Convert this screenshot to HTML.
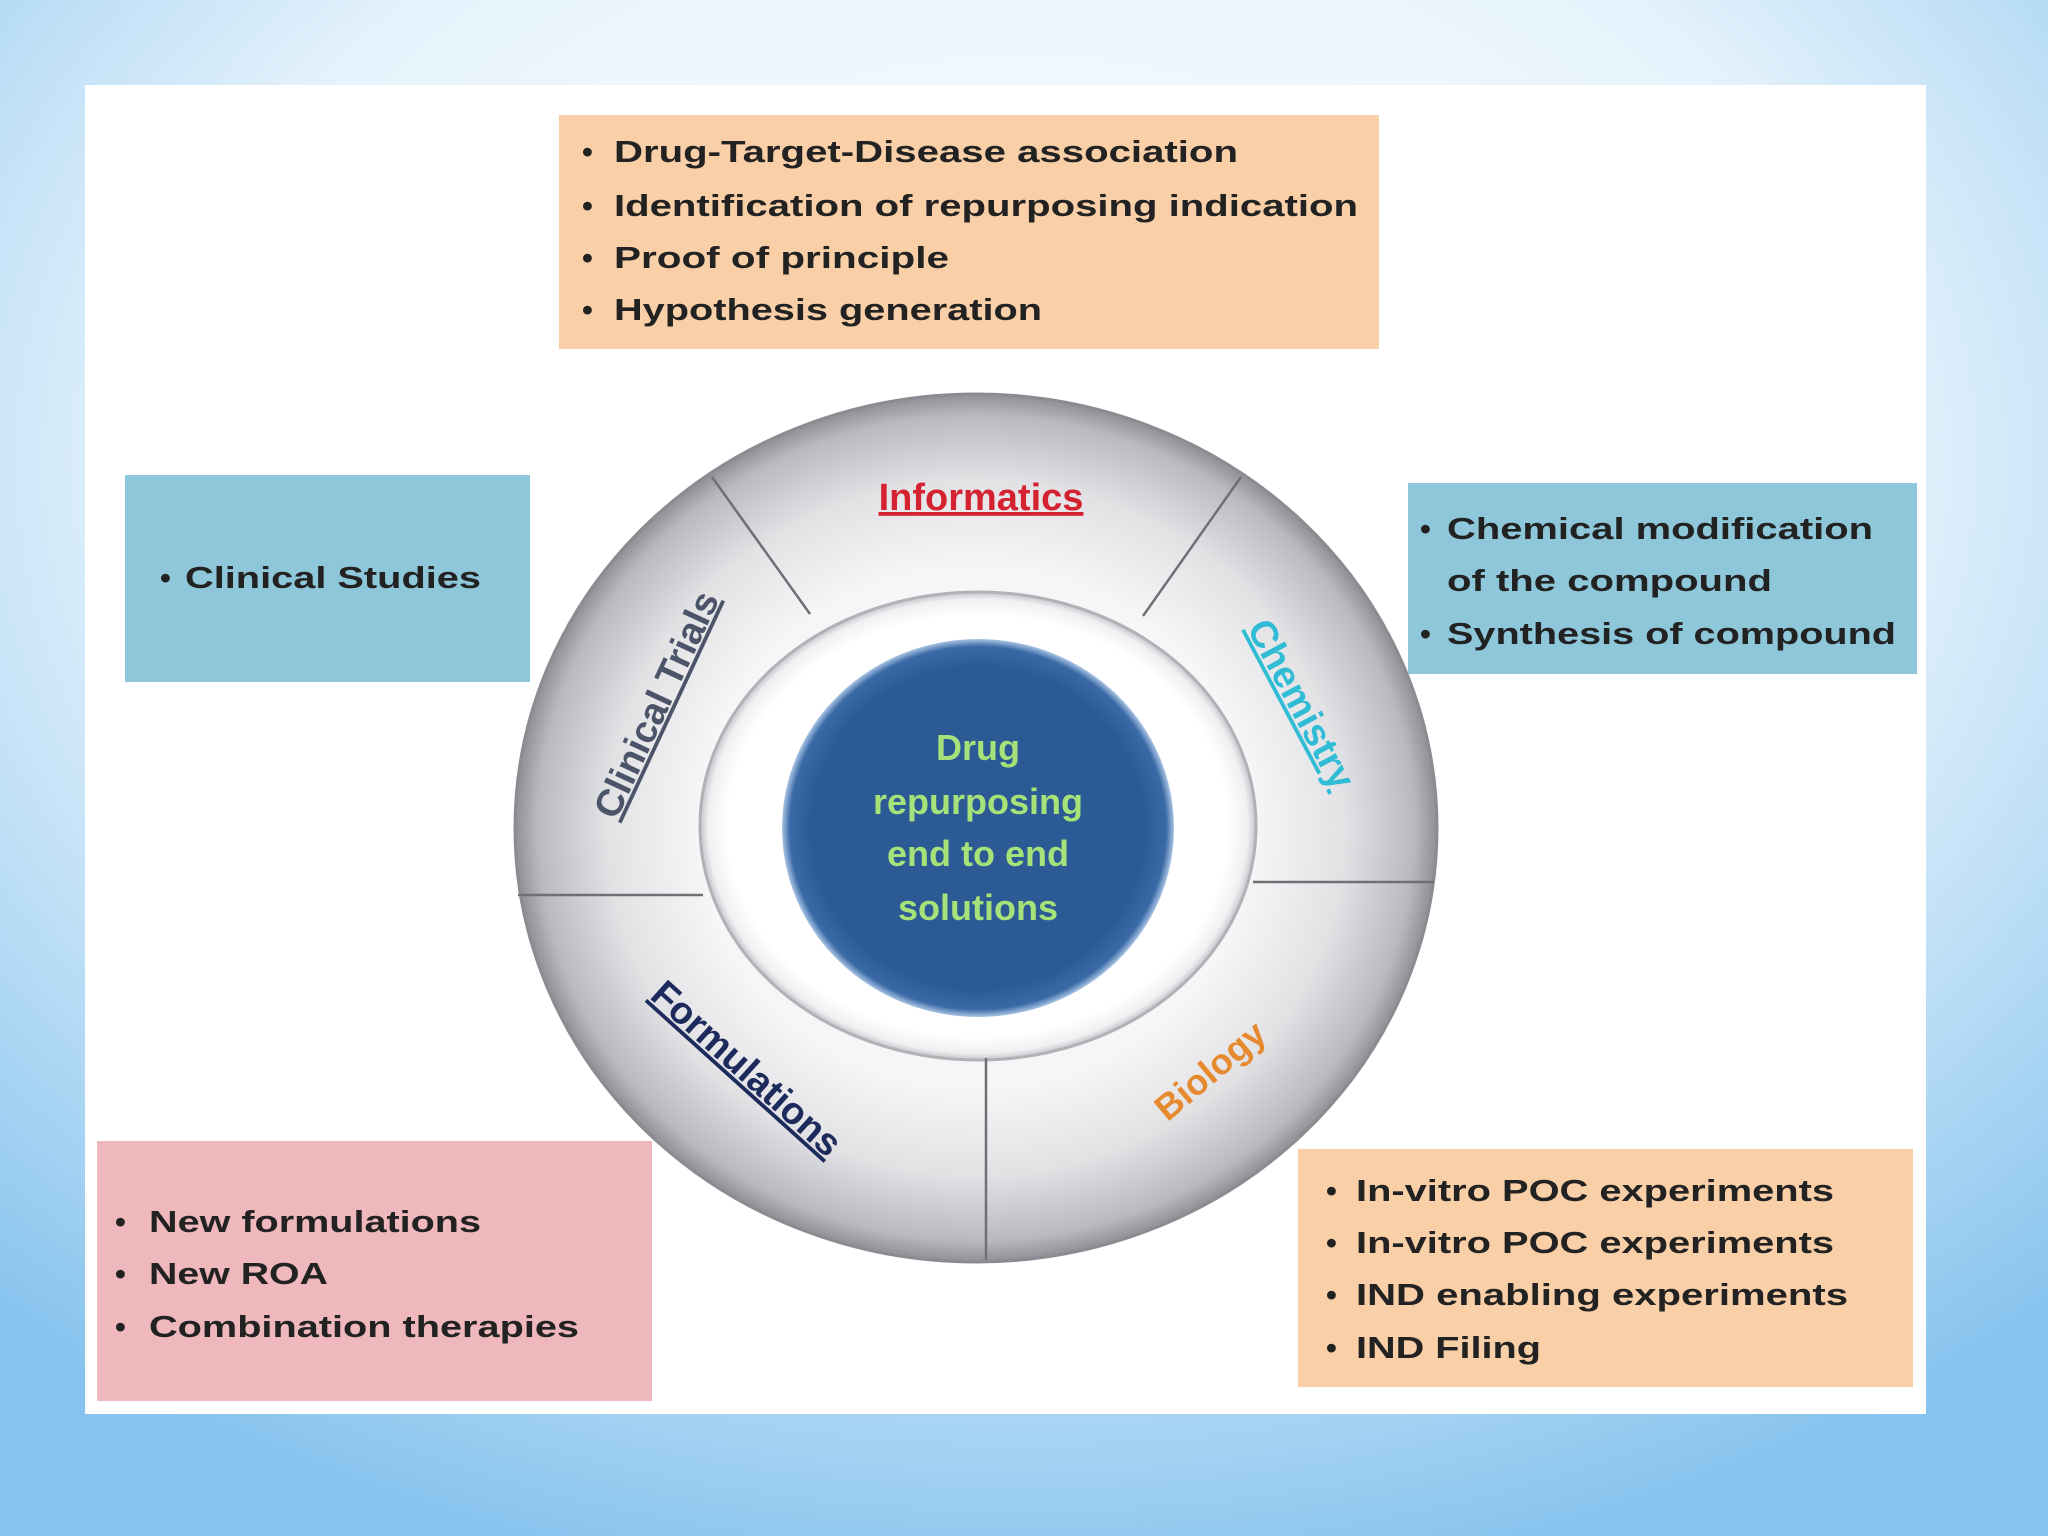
<!DOCTYPE html>
<html><head><meta charset="utf-8"><style>
html,body{margin:0;padding:0;width:2048px;height:1536px;overflow:hidden}
svg{display:block}
text{font-family:"Liberation Sans",sans-serif;font-weight:bold}
</style></head><body>
<svg width="2048" height="1536" viewBox="0 0 2048 1536" xmlns="http://www.w3.org/2000/svg">
<defs>
<radialGradient id="bg" cx="50%" cy="30%" r="75%">
<stop offset="0" stop-color="#ffffff"/><stop offset="0.55" stop-color="#e6f3fc"/><stop offset="1" stop-color="#86c3ee"/>
</radialGradient>
<radialGradient id="ring" cx="50%" cy="50%" r="50%">
<stop offset="0.6" stop-color="#f6f6f7"/><stop offset="0.8" stop-color="#e2e2e5"/><stop offset="0.95" stop-color="#b8babf"/><stop offset="1" stop-color="#8e9096"/>
</radialGradient>
<radialGradient id="inner" cx="50%" cy="50%" r="50%">
<stop offset="0.9" stop-color="#ffffff"/><stop offset="0.97" stop-color="#f0f0f2"/><stop offset="1" stop-color="#c4c5ca"/>
</radialGradient>
<radialGradient id="blue" cx="50%" cy="50%" r="50%">
<stop offset="0.85" stop-color="#2c5a94"/><stop offset="0.96" stop-color="#3a6aa6"/><stop offset="1" stop-color="#a9c4e4"/>
</radialGradient>
</defs>
<rect width="2048" height="1536" fill="url(#bg)"/>
<rect x="85" y="85" width="1841" height="1329" fill="#ffffff"/>

<rect x="559" y="115" width="820" height="234" fill="#f9cfa7"/>
<rect x="125" y="475" width="405" height="207" fill="#8fc7da"/>
<rect x="1408" y="483" width="509" height="191" fill="#8fc7da"/>
<rect x="97" y="1141" width="555" height="260" fill="#efb8bd"/>
<rect x="1298" y="1149" width="615" height="238" fill="#f9cfa7"/>

<g fill="#222" font-size="31">
<text x="582" y="162">•</text><text x="614" y="162" textLength="624" lengthAdjust="spacingAndGlyphs">Drug-Target-Disease association</text>
<text x="582" y="216">•</text><text x="614" y="216" textLength="744" lengthAdjust="spacingAndGlyphs">Identification of repurposing indication</text>
<text x="582" y="268">•</text><text x="614" y="268" textLength="335" lengthAdjust="spacingAndGlyphs">Proof of principle</text>
<text x="582" y="320">•</text><text x="614" y="320" textLength="428" lengthAdjust="spacingAndGlyphs">Hypothesis generation</text>

<text x="160" y="588">•</text><text x="185" y="588" textLength="296" lengthAdjust="spacingAndGlyphs">Clinical Studies</text>

<text x="1420" y="539">•</text><text x="1447" y="539" textLength="426" lengthAdjust="spacingAndGlyphs">Chemical modification</text>
<text x="1447" y="591" textLength="325" lengthAdjust="spacingAndGlyphs">of the compound</text>
<text x="1420" y="644">•</text><text x="1447" y="644" textLength="449" lengthAdjust="spacingAndGlyphs">Synthesis of compound</text>

<text x="115" y="1232">•</text><text x="149" y="1232" textLength="332" lengthAdjust="spacingAndGlyphs">New formulations</text>
<text x="115" y="1284">•</text><text x="149" y="1284" textLength="179" lengthAdjust="spacingAndGlyphs">New ROA</text>
<text x="115" y="1337">•</text><text x="149" y="1337" textLength="430" lengthAdjust="spacingAndGlyphs">Combination therapies</text>

<text x="1326" y="1201">•</text><text x="1356" y="1201" textLength="478" lengthAdjust="spacingAndGlyphs">In-vitro POC experiments</text>
<text x="1326" y="1253">•</text><text x="1356" y="1253" textLength="478" lengthAdjust="spacingAndGlyphs">In-vitro POC experiments</text>
<text x="1326" y="1305">•</text><text x="1356" y="1305" textLength="492" lengthAdjust="spacingAndGlyphs">IND enabling experiments</text>
<text x="1326" y="1358">•</text><text x="1356" y="1358" textLength="185" lengthAdjust="spacingAndGlyphs">IND Filing</text>
</g>

<ellipse cx="976" cy="828" rx="461" ry="434" fill="url(#ring)" stroke="#8a8c92" stroke-width="3"/>
<ellipse cx="978" cy="826" rx="278" ry="234" fill="url(#inner)" stroke="#b0b2b8" stroke-width="3"/>
<g stroke="#6e7076" stroke-width="2.5">
<line x1="712" y1="477" x2="810" y2="614"/>
<line x1="1241" y1="477" x2="1143" y2="616"/>
<line x1="518" y1="895" x2="703" y2="895"/>
<line x1="1253" y1="882" x2="1434" y2="882"/>
<line x1="986" y1="1058" x2="986" y2="1260"/>
</g>
<ellipse cx="978" cy="828" rx="196" ry="189" fill="url(#blue)"/>

<g fill="#a6e27a" font-size="36" text-anchor="middle">
<text x="978" y="760">Drug</text>
<text x="978" y="814">repurposing</text>
<text x="978" y="866">end to end</text>
<text x="978" y="920">solutions</text>
</g>

<text x="981" y="510" fill="#d42230" font-size="38" text-anchor="middle" text-decoration="underline">Informatics</text>
<text transform="translate(668,710) rotate(-65)" fill="#4b5468" font-size="38" text-anchor="middle" text-decoration="underline">Clinical Trials</text>
<text transform="translate(1290,710) rotate(62)" fill="#2fbcd4" font-size="38" text-anchor="middle" text-decoration="underline">Chemistry</text>
<text transform="translate(738,1078) rotate(42)" fill="#1c2a5c" font-size="38" text-anchor="middle" text-decoration="underline">Formulations</text>
<text transform="translate(1218,1080) rotate(-40)" fill="#e68a30" font-size="36" text-anchor="middle">Biology</text>
</svg>
</body></html>
